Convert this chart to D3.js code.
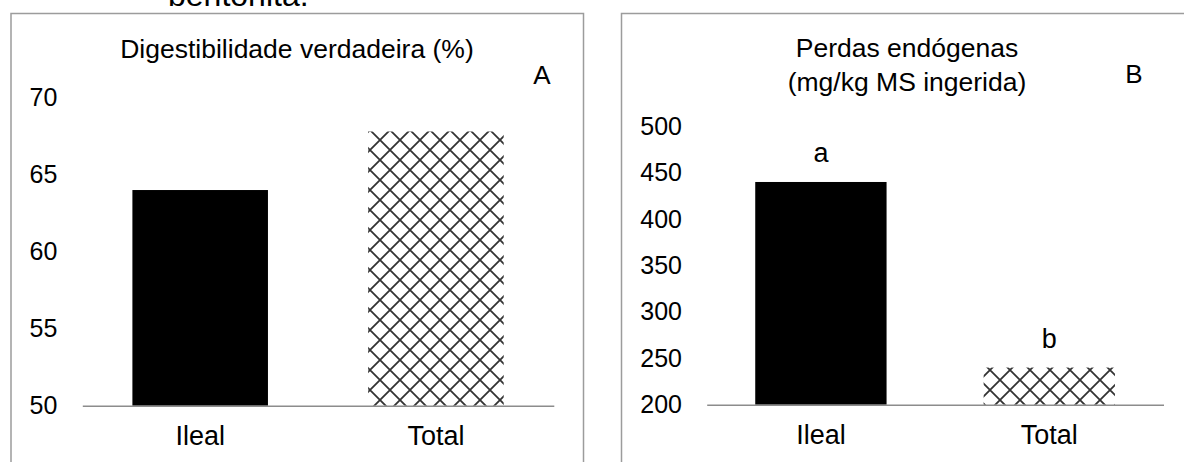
<!DOCTYPE html>
<html>
<head>
<meta charset="utf-8">
<script src="https://cdn.jsdelivr.net/npm/d3@7"></script>
<style>
  html, body { margin: 0; padding: 0; background: #fff; }
  svg { display: block; }
  text { font-family: "Liberation Sans", Arial, sans-serif; fill: #000; }
</style>
</head>
<body>
<svg id="chart" width="1184" height="462"></svg>
<script>
// ---- data ----
const categories = ["Ileal", "Total"];
const digestValues = [64.0, 67.8];
const digestTicks = [50, 55, 60, 65, 70];
const perdasValues = [440, 240];
const perdasTicks = [200, 250, 300, 350, 400, 450, 500];
const perdasLetters = ["a", "b"];
const titleA = ["Digestibilidade verdadeira (%)"];
const titleB = ["Perdas endógenas", "(mg/kg MS ingerida)"];

const svg = d3.select("#chart");
const FONT = 25;

// hatch pattern (diamond lattice)
const defs = svg.append("defs");
const P = 20;
const pat = defs.append("pattern").attr("id", "hatch")
  .attr("patternUnits", "userSpaceOnUse").attr("width", P).attr("height", P);
pat.append("rect").attr("width", P).attr("height", P).attr("fill", "#fff");
pat.append("path")
  .attr("d", `M0,0L${P},${P}M${P},0L0,${P}M-2,${P-2}L2,${P+2}M${P-2},-2L${P+2},2M-2,2L2,-2M${P-2},${P+2}L${P+2},${P-2}`)
  .attr("stroke", "#333").attr("stroke-width", 1.8);

// top cropped caption
svg.append("text").attr("x", 168).attr("y", 6)
  .style("font-size", "32px").text("bentonita.");

function panel(cfg) {
  const g = svg.append("g");
  // border
  g.append("rect")
    .attr("x", cfg.box[0]).attr("y", cfg.box[1])
    .attr("width", cfg.box[2]).attr("height", cfg.box[3])
    .attr("fill", "none").attr("stroke", "#9c9c9c").attr("stroke-width", 1.5);

  const x = d3.scaleBand().domain(categories).range(cfg.xRange).padding(0);
  const y = d3.scaleLinear().domain(cfg.yDomain).range(cfg.yRange);
  const bw = x.bandwidth() * 0.575;

  g.selectAll("rect.bar").data(cfg.values).join("rect")
    .attr("class", "bar")
    .attr("x", (d, i) => x(categories[i]) + (x.bandwidth() - bw) / 2)
    .attr("width", bw)
    .attr("y", d => y(d))
    .attr("height", d => y(cfg.yDomain[0]) - y(d))
    .attr("fill", (d, i) => i === 0 ? "#000" : "url(#hatch)");

  // y axis labels
  const ya = g.append("g").attr("transform", `translate(${cfg.xRange[0]},0)`)
    .call(d3.axisLeft(y).tickValues(cfg.ticks).tickSize(0).tickPadding(cfg.yPad));
  ya.select(".domain").remove();
  ya.selectAll("text").style("font-size", FONT + "px").attr("font-family", null);

  // x axis
  const xa = g.append("g").attr("transform", `translate(0,${y(cfg.yDomain[0])})`)
    .call(d3.axisBottom(x).tickSize(0).tickPadding(20.5));
  xa.select(".domain").attr("stroke", "#8c8c8c").attr("stroke-width", 1.6);
  xa.selectAll("text").style("font-size", "27px").attr("font-family", null);

  // title
  cfg.title.forEach((t, i) => {
    g.append("text").attr("x", cfg.titleX).attr("y", cfg.titleY + i * 34)
      .attr("text-anchor", "middle").style("font-size", "26.5px").text(t);
  });
  g.append("text").attr("x", cfg.letterPos[0]).attr("y", cfg.letterPos[1])
    .attr("text-anchor", "middle").style("font-size", "26px").text(cfg.letter);

  if (cfg.barLetters) {
    g.selectAll("text.sig").data(cfg.values).join("text")
      .attr("class", "sig")
      .attr("x", (d, i) => x(categories[i]) + x.bandwidth() / 2)
      .attr("y", d => y(d) - 20)
      .attr("text-anchor", "middle").style("font-size", "27px")
      .text((d, i) => cfg.barLetters[i]);
  }
}

panel({
  box: [11, 13.5, 572.5, 520],
  xRange: [82.3, 553.8],
  yDomain: [50, 70], yRange: [405.7, 97.6],
  values: digestValues, ticks: digestTicks, yPad: 25,
  title: titleA, titleX: 297, titleY: 58,
  letter: "A", letterPos: [542, 84]
});

panel({
  box: [621.5, 13.5, 620, 520],
  xRange: [706.7, 1163.5],
  yDomain: [200, 500], yRange: [404.7, 126.3],
  values: perdasValues, ticks: perdasTicks, yPad: 24.7,
  title: titleB, titleX: 907, titleY: 57,
  letter: "B", letterPos: [1134, 83],
  barLetters: perdasLetters
});
</script>
</body>
</html>
